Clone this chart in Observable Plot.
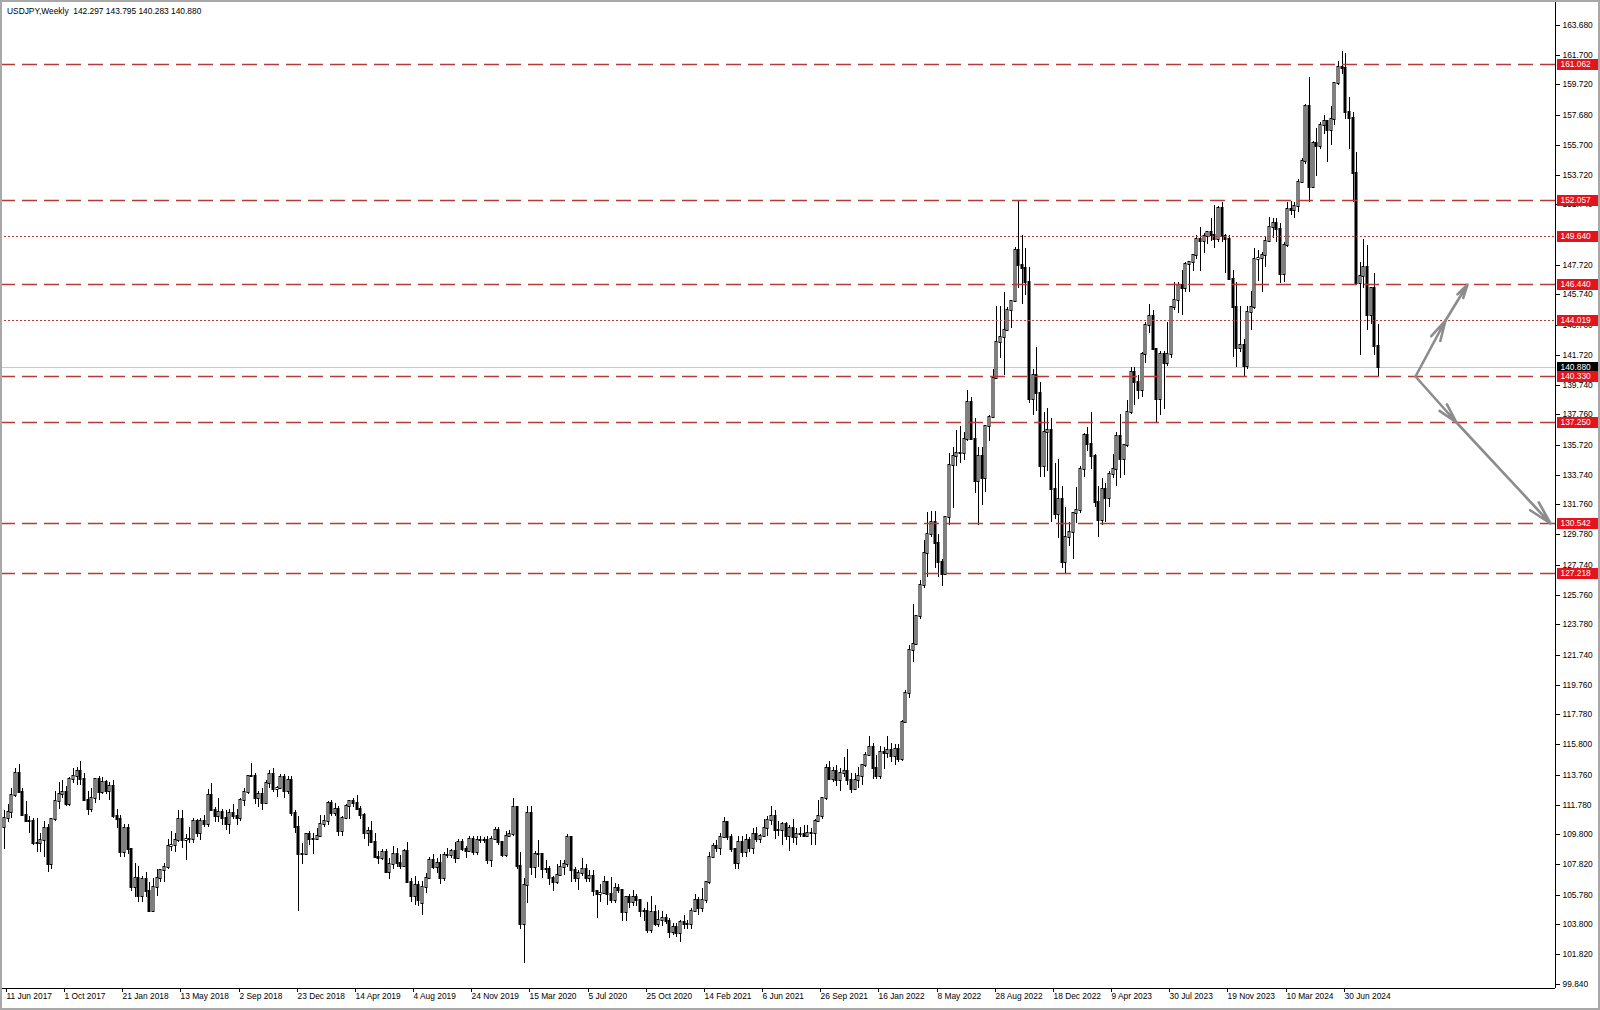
<!DOCTYPE html>
<html><head><meta charset="utf-8">
<script src="https://cdn.jsdelivr.net/npm/d3@7"></script>
<script src="https://cdn.jsdelivr.net/npm/@observablehq/plot@0.6"></script>
<style>
html,body{margin:0;padding:0;background:#fff;}
#wrap{position:relative;width:1600px;height:1010px;overflow:hidden;background:#fff;font-family:Tahoma,"Liberation Sans",Arial,sans-serif;}
#chart{position:absolute;left:0;top:0;}
#title{position:absolute;left:7px;top:6px;font-size:8.4px;color:#000;white-space:pre;}
#border{position:absolute;left:0;top:0;width:1600px;height:1010px;box-sizing:border-box;border:2px solid #a8a8a8;pointer-events:none;}
</style></head>
<body><div id="wrap"><div id="chart"></div><div id="title">USDJPY,Weekly  142.297 143.795 140.283 140.880</div><div id="border"></div></div>
<script>
// ---- DATA: weekly candles [open, high, low, close], one row per week starting 11 Jun 2017 ----
const firstWeek = "2017-06-11";
const w2017 = [
[110.3,111.4,108.8,110.9],[110.9,111.8,110.6,111.3],[111.3,112.9,110.9,112.4],[112.4,114.2,112.3,113.9],[113.9,114.5,112.6,112.6],
[112.6,112.9,111.0,111.1],[111.1,112.0,110.6,110.7],[110.7,111.0,109.9,110.7],[110.7,110.9,109.1,109.2],[109.2,110.9,108.6,109.2],
[109.2,109.9,108.6,109.4],[109.4,110.7,108.3,110.2],[110.2,110.5,107.3,107.8],[107.8,110.9,107.5,110.8],[110.8,112.7,110.7,112.0],
[112.0,113.3,111.5,112.5],[112.5,113.4,112.2,112.6],[112.6,113.0,111.7,111.8],[111.8,113.6,111.7,113.5],[113.5,114.2,113.2,113.7],
[113.7,114.3,113.1,114.0],[114.0,114.7,113.1,113.5],[113.5,113.9,112.0,112.1],[112.1,112.7,111.1,111.5],[111.5,112.9,111.3,112.2],
[112.2,113.5,111.9,113.5],[113.5,113.7,112.1,112.6],[112.6,113.6,112.5,113.3],[113.3,113.4,112.5,112.7],[112.7,113.3,112.1,113.0]];
const w2018 = [
[113.0,113.4,110.9,111.0],[111.0,111.5,110.2,110.8],[110.8,111.1,108.3,108.6],[108.6,110.5,108.3,110.2],[110.2,110.5,108.5,108.8],
[108.8,108.9,106.0,106.3],[106.3,107.9,105.6,106.9],[106.9,107.7,105.3,105.7],[105.7,107.0,105.3,106.8],[106.8,107.3,105.6,106.0],
[106.0,106.6,104.6,104.7],[104.7,106.9,104.6,106.3],[106.3,107.5,105.7,106.9],[106.9,107.5,106.6,107.4],[107.4,107.9,106.6,107.6],
[107.6,109.5,107.5,109.0],[109.0,110.0,108.7,109.1],[109.1,109.9,108.6,109.4],[109.4,111.4,109.3,110.8],[110.8,111.4,108.9,109.4],
[109.4,109.8,108.1,109.5],[109.5,110.3,109.2,109.5],[109.5,110.9,109.2,110.7],[110.7,110.8,109.6,109.9],[109.9,110.9,109.4,110.7],
[110.7,111.1,110.3,110.5],[110.5,112.8,110.3,112.4],[112.4,113.2,111.4,111.4],[111.4,111.6,110.6,111.0],[111.0,112.2,110.6,111.3],
[111.3,111.5,110.4,110.9],[110.9,111.4,110.1,110.5],[110.5,111.5,109.8,111.2],[111.2,111.8,110.8,111.0],[111.0,111.5,110.4,110.9],
[110.9,112.2,110.7,112.1],[112.1,112.9,111.7,112.6],[112.6,113.7,112.5,113.7],[113.7,114.55,113.6,113.7],[113.7,113.9,111.8,112.2],
[112.2,112.7,111.6,112.5],[112.5,112.9,111.4,111.9],[111.9,113.4,111.8,113.2],[113.2,114.1,112.9,113.8],[113.8,114.2,112.6,112.8],
[112.8,113.0,112.3,112.9],[112.9,113.8,112.9,113.6],[113.6,113.8,112.2,112.7],[112.7,113.7,112.5,113.4],[113.4,113.7,111.0,111.2],
[111.2,111.4,109.9,110.3],[110.3,111.0,104.7,108.5]];
const w2019 = [
[108.5,109.2,107.8,108.5],[108.5,109.9,108.4,109.8],[109.8,110.0,109.1,109.5],[109.5,109.9,108.5,109.5],[109.5,110.2,109.4,109.7],
[109.7,111.1,109.6,110.5],[110.5,111.1,110.3,110.7],[110.7,112.0,110.4,111.9],[111.9,112.1,111.0,111.2],[111.2,111.9,111.0,111.5],
[111.5,111.7,109.7,110.0],[110.0,111.0,109.7,110.9],[110.9,111.8,110.8,111.7],[111.7,112.1,110.8,112.0],[112.0,112.2,111.6,111.9],
[111.9,112.4,111.4,111.5],[111.5,111.7,110.8,111.1],[111.1,111.2,109.5,109.9],[109.9,110.3,109.0,110.0],[110.0,110.7,109.3,109.3],
[109.3,109.9,108.3,108.3],[108.3,108.7,107.8,108.2],[108.2,108.8,108.1,108.6],[108.6,108.8,107.2,107.3],[107.3,108.2,106.8,107.8],
[107.8,109.0,107.5,108.5],[108.5,108.9,107.6,107.9],[107.9,108.4,107.5,107.7],[107.7,108.8,107.6,108.7],[108.7,109.3,106.6,106.6],
[106.6,106.9,105.3,105.7],[105.7,107.0,105.1,106.4],[106.4,106.7,105.05,105.4],[105.2,106.7,104.45,106.3],[106.3,107.2,105.9,106.9],
[106.9,108.3,106.8,108.1],[108.1,108.5,107.5,107.6],[107.6,108.2,107.2,107.9],[107.9,108.5,106.5,106.9],[106.9,108.6,106.7,108.4],
[108.4,108.9,108.2,108.4],[108.4,108.8,108.2,108.7],[108.7,109.3,107.9,108.2],[108.2,109.5,108.2,109.3],[109.3,109.5,108.7,108.8],
[108.8,109.0,108.2,108.7],[108.7,109.7,108.6,109.5],[109.5,109.7,108.4,108.6],[108.6,109.7,108.4,109.4],[109.4,109.7,109.2,109.4],
[109.4,109.6,109.2,109.4],[109.4,109.7,107.8,108.1]];
const w2020 = [
[108.1,109.7,107.6,109.5],[109.5,110.3,109.4,110.1],[110.1,110.3,109.1,109.3],[109.3,109.3,108.3,108.4],[108.4,110.0,108.3,109.7],
[109.7,110.1,109.6,109.8],[109.8,112.2,109.7,111.6],[111.6,111.7,107.5,107.7],[107.7,108.6,103.5,103.8],[103.8,106.9,101.2,106.4],
[106.4,111.7,105.2,111.2],[111.2,111.7,107.1,107.6],[107.6,108.7,106.9,108.5],[108.5,109.4,107.6,108.5],[108.5,108.5,106.9,107.5],
[107.5,108.1,107.2,107.5],[107.5,107.7,106.4,106.9],[106.9,107.0,106.0,106.6],[106.6,107.8,106.5,107.1],[107.1,108.1,107.0,107.6],
[107.6,108.1,107.1,107.8],[107.8,109.85,107.6,109.6],[109.6,109.7,106.6,107.4],[107.4,107.6,106.6,106.9],[106.9,107.4,106.1,107.2],
[107.2,108.2,107.0,107.5],[107.5,107.8,106.6,106.9],[106.9,107.4,106.6,107.0],[107.0,107.4,105.7,106.0],[106.0,106.1,104.2,105.8],
[105.8,106.5,105.3,105.9],[105.9,107.0,105.8,106.6],[106.6,106.6,105.1,105.8],[105.8,106.95,105.2,105.4],[105.4,106.55,105.2,106.2],
[106.2,106.5,105.9,106.1],[106.1,106.1,104.0,104.6],[104.6,105.7,104.0,105.6],[105.6,105.8,104.9,105.3],[105.3,106.1,105.0,105.6],
[105.6,105.8,105.0,105.4],[105.4,105.5,104.3,104.7],[104.7,104.9,104.0,104.7],[104.7,105.3,103.2,103.4],[103.4,105.7,103.2,104.6],
[104.6,105.1,103.7,103.8],[103.8,104.75,103.65,104.1],[104.1,104.7,103.7,104.2],[104.2,104.5,103.8,104.0],[104.0,104.2,102.9,103.3],
[103.3,103.9,103.1,103.6],[103.6,103.9,102.95,103.2]];
const w2021 = [
[103.2,104.1,102.6,103.95],[103.95,104.4,103.5,103.85],[103.85,104.1,103.5,103.8],[103.8,104.9,103.5,104.7],[104.7,105.8,104.6,105.4],
[105.4,105.6,104.4,104.9],[104.9,106.2,104.6,105.4],[105.4,106.7,105.2,106.6],[106.6,108.6,106.5,108.3],[108.3,109.2,108.3,109.0],
[109.0,109.4,108.6,108.9],[108.9,109.9,108.4,109.6],[109.6,110.97,109.6,110.6],[110.6,110.6,109.4,109.6],[109.6,109.8,108.6,108.8],
[108.8,108.9,107.5,107.9],[107.9,109.7,107.5,109.3],[109.3,109.7,108.3,108.6],[108.6,109.8,108.3,109.4],[109.4,109.6,108.6,108.9],
[108.9,110.2,108.5,109.8],[109.8,110.3,109.3,109.5],[109.5,109.8,109.2,109.7],[109.7,110.8,109.6,110.2],[110.2,111.0,109.7,110.75],
[110.75,111.7,110.4,111.05],[111.05,111.4,109.5,110.1],[110.1,110.7,109.7,110.1],[110.1,110.6,109.1,110.5],[110.5,110.6,109.4,109.7],
[109.7,110.4,108.7,110.2],[110.2,110.8,109.2,109.6],[109.6,110.2,109.1,109.8],[109.8,110.3,109.6,109.8],[109.8,110.4,109.6,109.7],
[109.7,110.4,109.6,109.9],[109.9,110.2,109.1,109.9],[109.9,110.8,109.1,110.7],[110.7,112.1,110.7,111.05],[111.05,112.3,110.8,112.2],
[112.2,114.5,112.1,114.2],[114.2,114.7,113.4,113.5],[113.5,114.3,113.3,114.0],[114.0,114.4,113.0,113.4],[113.4,114.2,112.7,113.9],
[113.9,114.95,113.6,114.0],[114.0,115.5,113.1,113.4],[113.4,113.9,112.55,112.8],[112.8,113.9,112.8,113.4],[113.4,114.25,112.9,113.7],
[113.7,114.5,113.1,114.4],[114.4,115.25,114.3,115.1]];
const w2022 = [
[115.1,116.35,115.0,115.6],[115.6,115.9,113.5,114.2],[114.2,115.1,113.5,113.7],[113.7,115.7,113.5,115.3],[115.3,115.6,114.15,115.2],
[115.2,116.35,114.9,115.4],[115.4,115.9,114.6,115.0],[115.0,115.8,114.4,115.5],[115.5,115.8,114.6,114.8],[114.8,117.4,114.65,117.3],
[117.3,119.4,117.2,119.2],[119.2,122.4,118.9,122.1],[122.1,125.1,121.3,122.5],[122.5,124.3,122.4,124.3],[124.3,126.7,124.1,126.4],
[126.4,129.4,126.2,128.5],[128.5,131.25,126.9,129.8],[129.8,131.3,129.6,130.6],[130.6,131.35,127.5,129.2],[129.2,129.8,126.95,127.9],
[127.9,128.1,126.35,127.1],[127.1,130.98,127.2,130.9],[130.9,135.2,130.4,134.4],[134.4,135.6,131.5,135.0],[135.0,136.7,134.3,135.2],
[135.2,137.0,134.5,135.2],[135.2,136.6,134.75,136.1],[136.1,139.4,136.0,138.6],[138.6,138.9,136.3,136.1],[136.1,137.5,132.5,133.3],
[133.3,135.6,130.4,135.0],[135.0,135.6,131.7,133.5],[133.5,137.0,132.6,137.0],[137.0,137.7,136.0,137.6],[137.6,140.8,137.6,140.2],
[140.2,144.99,140.2,142.6],[142.6,144.95,141.5,142.9],[142.9,145.9,140.35,143.4],[143.4,144.9,143.3,144.7],[144.7,145.4,143.5,145.3],
[145.3,148.9,145.3,148.7],[148.7,151.95,146.2,147.7],[147.7,149.7,145.1,147.5],[147.5,148.85,145.7,146.6],[146.6,147.6,138.5,138.8],
[138.8,140.8,137.7,140.4],[140.4,142.25,138.0,139.2],[139.2,139.9,133.6,134.3],[134.3,137.9,133.6,136.6],[136.6,138.2,134.0,136.7],
[136.7,137.5,130.6,132.8],[132.8,134.5,130.8,131.1]];
const w2023 = [
[131.1,134.8,129.5,132.1],[132.1,133.0,127.5,127.9],[127.9,131.6,127.2,129.6],[129.6,130.6,129.0,129.9],[129.9,131.2,128.1,131.2],
[131.2,132.9,130.5,131.4],[131.4,134.3,131.2,134.1],[134.1,136.5,133.6,136.4],[136.4,136.9,135.3,135.8],[135.8,137.9,134.1,135.0],
[135.0,135.1,131.6,131.9],[131.9,133.0,129.6,130.7],[130.7,133.5,130.4,132.8],[132.8,133.2,130.6,132.2],[132.2,134.0,131.6,133.8],
[133.8,135.1,133.5,134.1],[134.1,136.6,133.0,136.3],[136.3,137.8,133.5,134.8],[134.8,135.8,133.7,135.7],[135.7,138.7,135.6,137.9],
[137.9,140.9,137.8,140.6],[140.6,140.9,138.4,139.9],[139.9,140.4,138.8,139.4],[139.4,141.9,138.9,141.8],[141.8,143.9,141.2,143.7],
[143.7,145.1,143.2,144.3],[144.3,144.7,142.1,142.1],[142.1,142.2,137.25,138.8],[138.8,142.0,137.7,141.8],[141.8,142.0,138.1,141.2],
[141.2,143.9,141.0,141.8],[141.8,144.75,141.5,144.9],[144.9,146.6,144.7,145.4],[145.4,146.6,144.5,146.4],[146.4,147.4,144.4,146.2],
[146.2,147.9,145.9,147.8],[147.8,148.0,145.9,147.9],[147.9,148.45,147.3,148.4],[148.4,149.7,148.1,149.4],[149.4,150.2,147.3,149.3],
[149.3,149.8,148.5,149.6],[149.6,149.9,149.1,149.9],[149.9,150.8,149.3,149.7],[149.7,151.7,148.8,149.4],[149.4,151.6,149.2,151.5],
[151.5,151.9,149.2,149.6],[149.6,149.75,147.2,149.4],[149.4,149.7,146.7,146.8],[146.8,147.4,141.6,144.9],[144.9,146.6,140.9,142.2],
[142.2,144.96,141.9,142.4],[142.4,142.8,140.25,141.0],[141.0,145.0,140.8,144.6]];
const w2024 = [
[144.6,146.0,143.4,144.9],[144.9,148.8,144.8,148.1],[148.1,148.7,146.65,148.2],[148.2,148.6,145.9,148.4],[148.4,149.6,147.6,149.3],
[149.3,150.9,149.2,150.2],[150.2,150.8,149.5,150.5],[150.5,150.8,149.2,150.1],[150.1,150.5,146.5,147.1],[147.1,149.2,146.6,149.0],
[149.0,151.9,148.9,151.4],[151.4,151.97,151.0,151.35],[151.35,151.9,150.8,151.6],[151.6,153.4,151.2,153.2],[153.2,154.8,153.2,154.6],
[154.6,158.4,154.4,158.3],[158.3,160.2,151.9,152.9],[152.9,155.95,152.8,155.8],[155.8,156.8,153.6,155.6],[155.6,157.2,155.4,157.0],
[157.0,157.7,156.4,157.3],[157.3,157.3,154.55,156.7],[156.7,158.3,155.7,157.4],[157.4,159.9,157.0,159.8],[159.8,161.3,159.7,160.9],
[160.9,161.95,160.4,160.8],[160.8,161.8,157.4,157.9],[157.9,158.9,155.4,157.5],[157.5,157.9,151.9,153.8],[153.8,155.2,146.4,146.5],
[146.5,147.9,141.7,147.0],[147.0,149.4,146.2,147.6],[147.6,149.0,143.4,144.4],[144.4,146.25,143.8,146.2],[146.2,147.2,141.7,142.3],
[142.297,143.795,140.283,140.880]];

// horizontal levels
const dashedLevels = [161.062, 152.057, 146.440, 140.330, 137.250, 130.542, 127.218];
const dottedLevels = [149.640, 144.019];
const lastPrice = 140.880;

// right axis tick labels
const yTicks = [163.680,161.700,159.720,157.680,155.700,153.720,151.740,147.720,145.740,143.700,141.720,139.740,137.760,
  135.720,133.740,131.760,129.780,127.740,125.760,123.780,121.740,119.760,117.780,115.800,113.760,111.780,109.800,107.820,105.780,
  103.800,101.820,99.840];
// bottom axis tick labels
const xTicks = ["2017-06-11","2017-10-01","2018-01-21","2018-05-13","2018-09-02","2018-12-23","2019-04-14","2019-08-04",
  "2019-11-24","2020-03-15","2020-07-05","2020-10-25","2021-02-14","2021-06-06","2021-09-26","2022-01-16","2022-05-08",
  "2022-08-28","2022-12-18","2023-04-09","2023-07-30","2023-11-19","2024-03-10","2024-06-30"];

// projection arrows (date, price)
const arrowFromDate  = ["2024-11-18","2025-01-15","2024-11-18","2025-02-05"];
const arrowFromPrice = [140.330, 144.019, 140.330, 137.250];
const arrowToDate    = ["2025-01-15","2025-02-26","2025-02-05","2025-08-05"];
const arrowToPrice   = [144.019, 146.440, 137.250, 130.542];

// ---- build ----
const rows = [...w2017, ...w2018, ...w2019, ...w2020, ...w2021, ...w2022, ...w2023, ...w2024];
const start = new Date(firstWeek + "T00:00:00Z");
const candles = rows.map((r, i) => ({date: d3.utcWeek.offset(start, i), open: r[0], high: r[1], low: r[2], close: r[3]}));
const bulls = candles.filter(d => d.close >= d.open);
const bears = candles.filter(d => d.close < d.open);
const halfBody = 1.926 * 864e5;

const xDomain = [new Date("2017-06-03T07:00:00Z"), new Date("2025-08-14T19:00:00Z")];
const yDomain = [99.566, 165.211];
const xEnd = xDomain[1];

const arrows = arrowFromDate.map((d, i) => ({x1: new Date(d + "T00:00:00Z"), y1: arrowFromPrice[i], x2: new Date(arrowToDate[i] + "T00:00:00Z"), y2: arrowToPrice[i]}));
const allLevels = [...dashedLevels, ...dottedLevels];
const fmt = d3.format(".3f");
const red = "#b83a36";

const chart = Plot.plot({
  width: 1600, height: 1010,
  marginLeft: 0, marginRight: 45, marginTop: 2, marginBottom: 22,
  style: {fontFamily: 'Tahoma, "Liberation Sans", Arial, sans-serif', fontSize: "8.4px", background: "transparent", color: "#000"},
  x: {type: "utc", domain: xDomain, round: true},
  y: {domain: yDomain, round: true},
  marks: [
    Plot.ruleY([lastPrice], {stroke: "#c8c8c8", strokeWidth: 1}),
    Plot.ruleX(candles, {x: "date", y1: "low", y2: "high", stroke: "#000", strokeWidth: 1}),
    Plot.rect(bears, {x1: d => new Date(+d.date - halfBody), x2: d => new Date(+d.date + halfBody), y1: "open", y2: "close", fill: "#000", stroke: "#000", strokeWidth: 1, insetTop: -0.5, insetBottom: -0.5}),
    Plot.rect(bulls, {x1: d => new Date(+d.date - halfBody), x2: d => new Date(+d.date + halfBody), y1: "open", y2: "close", fill: "#fff", stroke: "#000", strokeWidth: 1, insetTop: -0.5, insetBottom: -0.5}),
    Plot.ruleY(dashedLevels, {stroke: red, strokeWidth: 1.4, strokeDasharray: "15,7"}),
    Plot.ruleY(dottedLevels, {stroke: red, strokeWidth: 1.2, strokeDasharray: "2,2"}),
    Plot.arrow(arrows, {x1: "x1", y1: "y1", x2: "x2", y2: "y2", stroke: "#8c8c8c", strokeWidth: 2.6, headLength: 14, headAngle: 28}),
    Plot.ruleX([xEnd], {stroke: "#000", strokeWidth: 1}),
    Plot.ruleY([yDomain[0]], {stroke: "#000", strokeWidth: 1}),
    Plot.axisY({anchor: "right", ticks: yTicks, tickFormat: fmt, tickSize: 4, tickPadding: 3, label: null, fontSize: 8.4}),
    Plot.axisX({ticks: xTicks.map(d => new Date(d + "T00:00:00Z")), tickFormat: d3.utcFormat("%-d %b %Y"), tickSize: 4, tickPadding: 1, textAnchor: "start", dx: 2, label: null, fontSize: 8.4}),
    Plot.ruleY([lastPrice], {x1: () => xEnd, x2: () => xEnd, insetLeft: 2, insetRight: -43, stroke: "#000", strokeWidth: 11}),
    Plot.text([lastPrice], {x: () => xEnd, y: d => d, text: d => fmt(d), dx: 5, textAnchor: "start", fill: "#fff", fontSize: 8.4}),
    Plot.ruleY(allLevels, {x1: () => xEnd, x2: () => xEnd, insetLeft: 2, insetRight: -43, stroke: "#e3141c", strokeWidth: 11}),
    Plot.text(allLevels, {x: () => xEnd, y: d => d, text: d => fmt(d), dx: 5, textAnchor: "start", fill: "#fff", fontSize: 8.4})
  ]
});
document.getElementById("chart").appendChild(chart);
</script>
</body></html>
